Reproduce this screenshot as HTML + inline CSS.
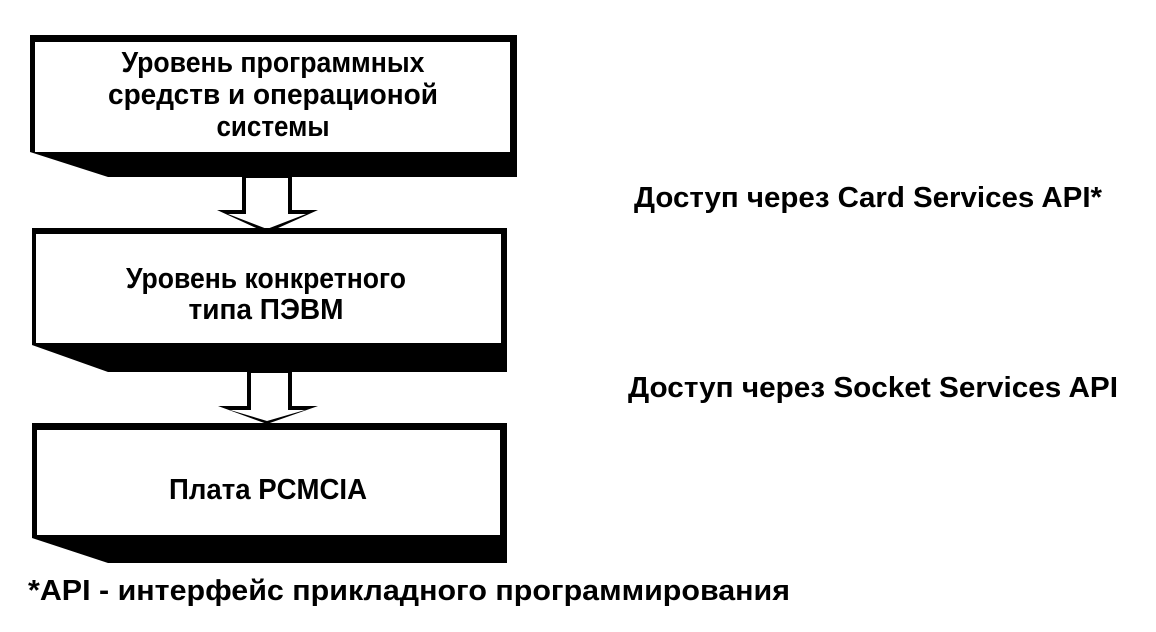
<!DOCTYPE html>
<html><head><meta charset="utf-8"><style>
html,body{margin:0;padding:0;background:#fff;}
svg{display:block;}
text{font-family:"Liberation Sans",Arial,sans-serif;font-weight:bold;fill:#000;}
</style></head><body>
<svg width="1156" height="632" viewBox="0 0 1156 632" xmlns="http://www.w3.org/2000/svg">
<polygon points="30,35 517,35 517,177 108,177 30,152" fill="#000"/>
<rect x="35" y="42" width="475" height="110" fill="#fff"/>
<polygon points="242,177 292,177 292,210 318,210 267,233 217,210 242,210" fill="#000"/>
<polygon points="246,178 288,178 288,214 306,214 267,229 228,214 246,214" fill="#fff"/>
<polygon points="32,228 507,228 507,372 108,372 32,345" fill="#000"/>
<rect x="36" y="234" width="465" height="109" fill="#fff"/>
<polygon points="247,372 292,372 292,406 318,406 267,424 218,406 247,406" fill="#000"/>
<polygon points="251,373 288,373 288,410 305,410 267,421 230,410 251,410" fill="#fff"/>
<polygon points="32,423 507,423 507,563 108,563 32,538" fill="#000"/>
<rect x="37" y="430" width="463" height="105" fill="#fff"/>

<text x="273" y="72" font-size="29" text-anchor="middle" textLength="303" lengthAdjust="spacingAndGlyphs">Уровень программных</text>
<text x="273" y="104" font-size="29" text-anchor="middle" textLength="330" lengthAdjust="spacingAndGlyphs">средств и операционой</text>
<text x="273" y="136" font-size="29" text-anchor="middle" textLength="113" lengthAdjust="spacingAndGlyphs">системы</text>
<text x="266" y="288" font-size="29" text-anchor="middle" textLength="280" lengthAdjust="spacingAndGlyphs">Уровень конкретного</text>
<text x="266" y="319" font-size="29" text-anchor="middle" textLength="155" lengthAdjust="spacingAndGlyphs">типа ПЭВМ</text>
<text x="268" y="499" font-size="29" text-anchor="middle" textLength="198" lengthAdjust="spacingAndGlyphs">Плата PCMCIA</text>

<text x="634" y="207" font-size="29" textLength="468" lengthAdjust="spacingAndGlyphs">Доступ через Card Services API*</text>
<text x="628" y="397" font-size="29" textLength="490" lengthAdjust="spacingAndGlyphs">Доступ через Socket Services API</text>
<text x="28" y="600" font-size="29" textLength="762" lengthAdjust="spacingAndGlyphs">*API - интерфейс прикладного программирования</text>
</svg>
</body></html>
